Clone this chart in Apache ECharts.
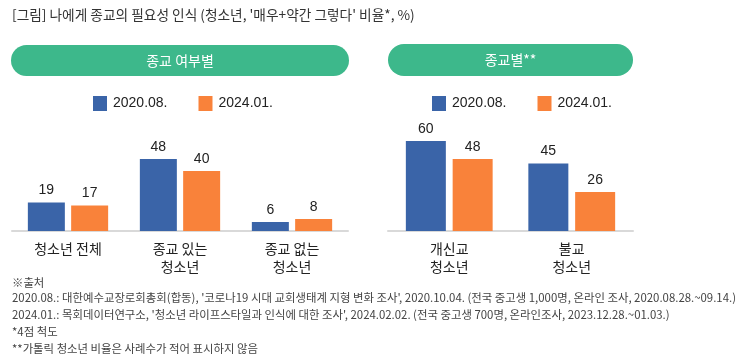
<!DOCTYPE html>
<html><head><meta charset="utf-8">
<script src="https://cdn.jsdelivr.net/npm/echarts@6/dist/echarts.min.js"></script>
<style>html,body{margin:0;padding:0;background:#fff}#c{width:750px;height:363px}</style>
</head><body><div id="c"></div>
<script>
const seriesNames = ['2020.08.', '2024.01.'];
const catsLeft = ['청소년 전체', '종교 있는\n청소년', '종교 없는\n청소년'];
const left2020 = [19, 48, 6];
const left2024 = [17, 40, 8];
const catsRight = ['개신교\n청소년', '불교\n청소년'];
const right2020 = [60, 45];
const right2024 = [48, 26];
const panelTitles = ['종교 여부별', '종교별**'];
const chartTitle = "[그림] 나에게 종교의 필요성 인식 (청소년, '매우+약간 그렇다' 비율*, %)";
const notes = [
  '※출처',
  "2020.08.: 대한예수교장로회총회(합동), '코로나19 시대 교회생태계 지형 변화 조사', 2020.10.04. (전국 중고생 1,000명, 온라인 조사, 2020.08.28.~09.14.)",
  "2024.01.: 목회데이터연구소, '청소년 라이프스타일과 인식에 대한 조사', 2024.02.02. (전국 중고생 700명, 온라인조사, 2023.12.28.~01.03.)",
  '*4점 척도',
  '**가톨릭 청소년 비율은 사례수가 적어 표시하지 않음'
];

const FONT = '"Liberation Sans", "Noto Sans CJK KR", sans-serif';
const KFONT = '"Noto Sans CJK KR", sans-serif';
const BLUE = '#3a64a8', ORANGE = '#f9823a', GREEN = '#3db88b';

const chart = echarts.init(document.getElementById('c'), null, {renderer: 'canvas'});

function barSeries(name, data, idx, width) {
  return {
    type: 'bar', name: name, data: data, xAxisIndex: idx, yAxisIndex: idx,
    barWidth: width, barGap: '17%',
    itemStyle: {color: name === seriesNames[0] ? BLUE : ORANGE},
    label: {show: true, position: 'top', distance: 5, fontSize: 14, color: '#222', fontFamily: FONT},
    emphasis: {disabled: true}
  };
}
const xAx = (cats, gi) => ({
  type: 'category', data: cats, gridIndex: gi,
  axisLine: {lineStyle: {color: '#d9d9d9', width: 2}},
  axisTick: {show: false},
  axisLabel: {fontSize: 14, color: '#222', lineHeight: 18, margin: 9, fontFamily: KFONT, interval: 0}
});
const yAx = gi => ({type: 'value', gridIndex: gi, min: 0, max: 80, show: false, splitLine: {show: false}});

const legendCommon = {
  data: seriesNames, itemWidth: 14, itemHeight: 15, itemGap: 31, icon: 'rect',
  textStyle: {fontSize: 14, color: '#222', fontFamily: FONT, padding: [0, 0, 0, 1]},
  selectedMode: false
};

const graphics = [
  {type: 'text', left: 12, top: 8, style: {text: chartTitle, fontSize: 13.7, fill: '#333', fontFamily: KFONT}},
  {type: 'rect', shape: {x: 11, y: 45, width: 338, height: 31, r: 15.5}, style: {fill: GREEN}},
  {type: 'text', x: 180, y: 60.5, style: {text: panelTitles[0], fontSize: 14, fill: '#fff', fontFamily: KFONT, align: 'center', verticalAlign: 'middle'}},
  {type: 'rect', shape: {x: 388, y: 44, width: 245, height: 32, r: 16}, style: {fill: GREEN}},
  {type: 'text', x: 510.5, y: 60, style: {text: panelTitles[1], fontSize: 14, fill: '#fff', fontFamily: KFONT, align: 'center', verticalAlign: 'middle'}}
];
const noteY = [283, 298, 315, 332, 349];
notes.forEach((t, i) => graphics.push({type: 'text', x: 12, y: noteY[i], style: {text: t, fontSize: 11.4, fill: '#444', fontFamily: KFONT, verticalAlign: 'middle'}}));

chart.setOption({
  animation: false,
  textStyle: {fontFamily: KFONT},
  grid: [
    {left: 12, width: 336, top: 111, height: 120},
    {left: 388, width: 245, top: 111, height: 120}
  ],
  xAxis: [xAx(catsLeft, 0), xAx(catsRight, 1)],
  yAxis: [yAx(0), yAx(1)],
  legend: [
    Object.assign({left: 88, top: 91}, legendCommon),
    Object.assign({left: 427, top: 91}, legendCommon)
  ],
  series: [
    barSeries(seriesNames[0], left2020, 0, 37),
    barSeries(seriesNames[1], left2024, 0, 37),
    barSeries(seriesNames[0], right2020, 1, 40),
    barSeries(seriesNames[1], right2024, 1, 40)
  ],
  graphic: graphics
});
</script></body></html>
